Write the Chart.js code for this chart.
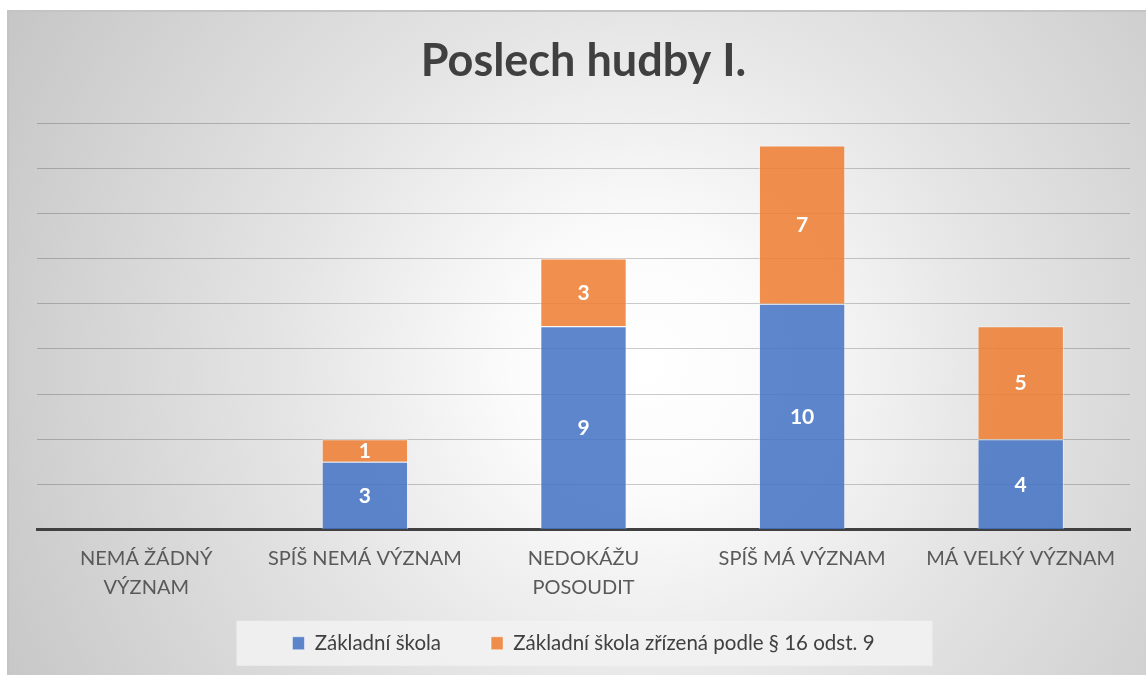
<!DOCTYPE html>
<html>
<head>
<meta charset="utf-8">
<script src="https://cdn.jsdelivr.net/npm/chart.js@4"></script>
<style>
  html, body { margin: 0; padding: 0; background: #ffffff; }
  #wrap { position: relative; width: 1146px; height: 675px; overflow: hidden; }
  #frame {
    position: absolute; left: 7px; top: 10px; width: 1150px; height: 680px;
    box-sizing: border-box;
    border-left: 2px solid #c4c4c4; border-top: 2px solid #c4c4c4;
    background: radial-gradient(circle farthest-corner at 55% 52%, #ffffff 0%, #fbfbfb 18%, #e4e4e4 50%, #c6c6c6 100%);
  }
  #c { position: absolute; left: 0; top: 0; }
</style>
</head>
<body>
<div id="wrap">
  <div id="frame"></div>
  <canvas id="c" width="1146" height="675"></canvas>
</div>
<script>
const titleText = 'Poslech hudby I.';
const categories = [
  ['NEMÁ ŽÁDNÝ', 'VÝZNAM'],
  'SPÍŠ NEMÁ VÝZNAM',
  ['NEDOKÁŽU', 'POSOUDIT'],
  'SPÍŠ MÁ VÝZNAM',
  'MÁ VELKÝ VÝZNAM'
];
const seriesNames = ['Základní škola', 'Základní škola zřízená podle § 16 odst. 9'];
const zakladniSkola = [0, 3, 9, 10, 4];
const zrizenaSkola = [0, 1, 3, 7, 5];
const yMax = 18;
const yStep = 2;

const FONT = 'Lato, "Open Sans", sans-serif';

const valueLabels = {
  id: 'valueLabels',
  afterDatasetsDraw(chart) {
    const ctx = chart.ctx;
    ctx.save();
    ctx.fillStyle = '#ffffff';
    ctx.font = 'bold 21px ' + FONT;
    ctx.textAlign = 'center';
    ctx.textBaseline = 'middle';
    chart.data.datasets.forEach((ds, di) => {
      const meta = chart.getDatasetMeta(di);
      meta.data.forEach((el, i) => {
        const v = ds.data[i];
        if (!v) return;
        const p = el.getCenterPoint();
        ctx.fillText(String(v), p.x, p.y + 1);
      });
    });
    ctx.restore();
  }
};

const legendBg = {
  id: 'legendBg',
  beforeDraw(chart) {
    const lg = chart.legend;
    if (!lg || !lg.legendHitBoxes || !lg.legendHitBoxes.length) return;
    const hb = lg.legendHitBoxes;
    const first = hb[0];
    const cx = (lg.left + lg.right) / 2;
    const cy = first.top + first.height / 2;
    const w = 696;
    const ctx = chart.ctx;
    ctx.save();
    ctx.fillStyle = 'rgba(242,242,242,0.85)';
    ctx.fillRect(cx - w / 2 + 1, cy - 22.5, w, 45);
    ctx.restore();
  }
};

new Chart(document.getElementById('c'), {
  type: 'bar',
  data: {
    labels: categories,
    datasets: [
      {
        label: seriesNames[0],
        data: zakladniSkola,
        backgroundColor: 'rgba(68,114,196,0.86)',
        borderColor: 'rgba(255,255,255,0.45)',
        borderWidth: 1,
        categoryPercentage: 1,
        barPercentage: 0.395
      },
      {
        label: seriesNames[1],
        data: zrizenaSkola,
        backgroundColor: 'rgba(237,125,49,0.86)',
        borderColor: 'rgba(255,255,255,0.45)',
        borderWidth: 1,
        categoryPercentage: 1,
        barPercentage: 0.395
      }
    ]
  },
  options: {
    responsive: false,
    devicePixelRatio: 1,
    animation: false,
    layout: { padding: { left: 37, right: 16, top: 0, bottom: 11.5 } },
    plugins: {
      title: {
        display: true,
        text: titleText,
        color: '#404040',
        font: { family: FONT, size: 45, weight: 'bold' },
        padding: { top: 34, bottom: 35 }
      },
      legend: {
        display: true,
        position: 'bottom',
        labels: {
          color: '#404040',
          font: { family: FONT, size: 20.5 },
          boxWidth: 12,
          boxHeight: 13,
          padding: 50
        }
      },
      tooltip: { enabled: false }
    },
    scales: {
      x: {
        stacked: true,
        grid: { display: false, drawTicks: false },
        border: { display: true, color: '#404040', width: 3 },
        ticks: {
          color: '#595959',
          font: { family: FONT, size: 20, lineHeight: 1.45 },
          padding: 15,
          maxRotation: 0,
          autoSkip: false
        },
        afterFit(s) {
          s.height = 53.5;
          s._computeLabelArea = () => undefined;
        }
      },
      y: {
        stacked: true,
        min: 0,
        max: yMax,
        ticks: { display: false, stepSize: yStep },
        grid: { color: 'rgba(0,0,0,0.2)', lineWidth: 1, drawTicks: false },
        border: { display: false },
        afterFit(s) { s.width = 0; }
      }
    }
  },
  plugins: [legendBg, valueLabels]
});
</script>
</body>
</html>
